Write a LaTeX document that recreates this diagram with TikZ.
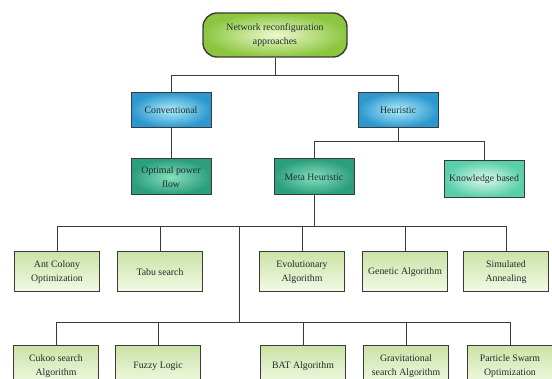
\documentclass[tikz,border=0pt]{standalone}
\usepackage{fontspec}
\setmainfont{Liberation Serif}
\usepackage{tikz}
\usetikzlibrary{positioning,calc}

\definecolor{linegray}{HTML}{3A3A3A}
\definecolor{txt}{HTML}{1E2B2B}
\definecolor{rootin}{HTML}{EEF9CF}
\definecolor{rootout}{HTML}{8CC63F}
\definecolor{bluein}{HTML}{B0ECFA}
\definecolor{blueout}{HTML}{2C98CF}
\definecolor{tealin}{HTML}{86DFBD}
\definecolor{tealout}{HTML}{2B9E7D}
\definecolor{knowin}{HTML}{DDF8EE}
\definecolor{knowout}{HTML}{58CFA9}
\definecolor{leaftop}{HTML}{CBE3A6}
\definecolor{leafbot}{HTML}{F3FAE6}

\begin{document}
\begin{tikzpicture}[x=1pt,y=-1pt,line width=1pt,draw=linegray,
   every node/.style={font=\fontsize{9.8}{14}\selectfont,text=txt,align=center,inner sep=2pt},
   rootbox/.style={draw=linegray,line width=1.4pt,rounded corners=14pt,
     minimum width=144pt,minimum height=44pt,inner color=rootin,outer color=rootout},
   bluebox/.style={draw=linegray,minimum width=80pt,minimum height=35pt,
     inner color=bluein,outer color=blueout},
   tealbox/.style={draw=linegray,minimum width=80pt,minimum height=36pt,
     inner color=tealin,outer color=tealout},
   lightbox/.style={draw=linegray,minimum width=80pt,minimum height=37pt,
     inner color=knowin,outer color=knowout},
   leafbox/.style={draw=linegray,minimum width=85pt,minimum height=40pt,
     top color=leaftop,bottom color=leafbot}]
  \useasboundingbox (0,0) rectangle (552,379);
  % top levels
  \node[rootbox]  (root) at (275,35)  {Network reconfiguration\\approaches};
  \node[bluebox]  (conv) at (171,110) {Conventional};
  \node[bluebox]  (heur) at (398,110) {Heuristic};
  \node[tealbox]  (opf)  at (171,177) {Optimal power\\flow};
  \node[tealbox]  (meta) at (314,177) {Meta Heuristic};
  \node[lightbox] (know) at (484,179) {Knowledge based};
  % first row of methods
  \node[leafbox] (ant)  at (57,272)  {Ant Colony\\Optimization};
  \node[leafbox] (tabu) at (160,272) {Tabu search};
  \node[leafbox] (evo)  at (302,272) {Evolutionary\\Algorithm};
  \node[leafbox] (gen)  at (405,272) {Genetic Algorithm};
  \node[leafbox] (sim)  at (506,272) {Simulated\\Annealing};
  % second row of methods
  \node[leafbox] (cuk)  at (56,366)  {Cukoo search\\Algorithm};
  \node[leafbox] (fuz)  at (158,366) {Fuzzy Logic};
  \node[leafbox] (bat)  at (303,366) {BAT Algorithm};
  \node[leafbox] (grav) at (406,366) {Gravitational\\search Algorithm};
  \node[leafbox] (pso)  at (510,366) {Particle Swarm\\Optimization};
  % junctions
  \coordinate (b0) at (275,76);
  \coordinate (b1) at (398,142);
  \coordinate (b2) at (314,226.5);
  \coordinate (b3) at (239,323);
  \draw (root) -- (b0) -| (conv);
  \draw (b0) -| (heur);
  \draw (conv) -- (opf);
  \draw (heur) -- (b1) -| (meta);
  \draw (b1) -| (know);
  \draw (meta) -- (b2);
  \foreach \n in {ant,tabu,evo,gen,sim}
    \draw (b2) -| (\n);
  \draw (b2 -| b3) -- (b3);
  \foreach \n in {cuk,fuz,bat,grav,pso}
    \draw (b3) -| (\n);
\end{tikzpicture}
\end{document}
